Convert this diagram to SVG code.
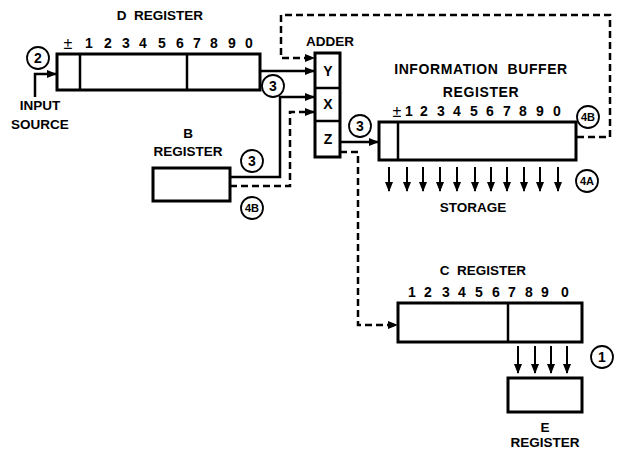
<svg xmlns="http://www.w3.org/2000/svg" width="624" height="450" viewBox="0 0 624 450">
<defs>
<marker id="ah" markerWidth="10" markerHeight="8" refX="9" refY="4" orient="auto" markerUnits="userSpaceOnUse">
<path d="M0,0 L10,4 L0,8 Z" fill="#000"/>
</marker>
<style>
text{font-family:"Liberation Sans",Arial,sans-serif;font-weight:bold;fill:#000}
.t{font-size:13.5px;text-anchor:middle;white-space:pre}
.tw{font-size:14px;text-anchor:middle;white-space:pre;letter-spacing:0.6px}
.d{font-size:14px;text-anchor:middle}
.pm{font-size:16px;text-anchor:middle;font-weight:normal}
.c{font-size:14px;text-anchor:middle}
.cs{font-size:11px;text-anchor:middle}
.box{fill:#fff;stroke:#000;stroke-width:3}
.div{stroke:#000;stroke-width:2.5}
.ln{fill:none;stroke:#000;stroke-width:2.5}
.ds{fill:none;stroke:#000;stroke-width:2.5;stroke-dasharray:7 4}
.cir{fill:#fff;stroke:#000;stroke-width:1.8}
.ar{stroke:#000;stroke-width:2}
</style>
</defs>
<rect width="624" height="450" fill="#fff"/>

<g id="connectors">
<path class="ln" d="M35,97 V74 H56" marker-end="url(#ah)"/>
<path class="ln" d="M260,71 H314" marker-end="url(#ah)"/>
<path class="ln" d="M230,177 H280 V97 H314" marker-end="url(#ah)"/>
<path class="ds" d="M230,186 H290 V112 H314" marker-end="url(#ah)"/>
<path class="ds" d="M577,137 H610 V15 H281 V58 H314" marker-end="url(#ah)"/>
<path class="ln" d="M340,142 H378" marker-end="url(#ah)"/>
<path class="ds" d="M340,152 H358 V325 H397" marker-end="url(#ah)"/>
<path class="ar" d="M389,167 V191" marker-end="url(#ah)"/>
<path class="ar" d="M407,167 V191" marker-end="url(#ah)"/>
<path class="ar" d="M423,167 V191" marker-end="url(#ah)"/>
<path class="ar" d="M440,167 V191" marker-end="url(#ah)"/>
<path class="ar" d="M457,167 V191" marker-end="url(#ah)"/>
<path class="ar" d="M475,167 V191" marker-end="url(#ah)"/>
<path class="ar" d="M491,167 V191" marker-end="url(#ah)"/>
<path class="ar" d="M507,167 V191" marker-end="url(#ah)"/>
<path class="ar" d="M524,167 V191" marker-end="url(#ah)"/>
<path class="ar" d="M540,167 V191" marker-end="url(#ah)"/>
<path class="ar" d="M558,167 V191" marker-end="url(#ah)"/>
<path class="ar" d="M518,346 V373" marker-end="url(#ah)"/>
<path class="ar" d="M535,346 V373" marker-end="url(#ah)"/>
<path class="ar" d="M551,346 V373" marker-end="url(#ah)"/>
<path class="ar" d="M567,346 V373" marker-end="url(#ah)"/>
</g>

<g id="d-register">
<text class="t" x="160" y="20">D  REGISTER</text>
<rect class="box" x="57" y="54" width="203" height="36"/>
<line class="div" x1="80" y1="54" x2="80" y2="90"/>
<line class="div" x1="187" y1="54" x2="187" y2="90"/>
<text class="pm" x="68" y="49">±</text>
<text class="d" x="89" y="48">1</text>
<text class="d" x="108" y="48">2</text>
<text class="d" x="126" y="48">3</text>
<text class="d" x="143" y="48">4</text>
<text class="d" x="162" y="48">5</text>
<text class="d" x="180" y="48">6</text>
<text class="d" x="197" y="48">7</text>
<text class="d" x="214" y="48">8</text>
<text class="d" x="232" y="48">9</text>
<text class="d" x="249" y="48">0</text>
</g>

<g id="input-source">
<text class="t" x="40" y="110">INPUT</text>
<text class="t" x="40" y="129">SOURCE</text>
</g>

<g id="b-register">
<text class="t" x="188" y="138">B</text>
<text class="t" x="188" y="156">REGISTER</text>
<rect class="box" x="153" y="168" width="77" height="33"/>
</g>

<g id="adder">
<text class="t" x="330" y="46">ADDER</text>
<rect class="box" x="315" y="53" width="25" height="104"/>
<line class="div" x1="315" y1="88" x2="340" y2="88"/>
<line class="div" x1="315" y1="121" x2="340" y2="121"/>
<text class="c" x="328" y="76">Y</text>
<text class="c" x="328" y="109">X</text>
<text class="c" x="328" y="144">Z</text>
</g>

<g id="info-buffer">
<text class="tw" x="481" y="74">INFORMATION  BUFFER</text>
<text class="tw" x="481" y="97">REGISTER</text>
<rect class="box" x="379" y="122" width="197" height="38"/>
<line class="div" x1="398" y1="122" x2="398" y2="160"/>
<text class="pm" x="397" y="117">±</text>
<text class="d" x="409" y="116">1</text>
<text class="d" x="424" y="116">2</text>
<text class="d" x="441" y="116">3</text>
<text class="d" x="457" y="116">4</text>
<text class="d" x="474" y="116">5</text>
<text class="d" x="490" y="116">6</text>
<text class="d" x="507" y="116">7</text>
<text class="d" x="523" y="116">8</text>
<text class="d" x="540" y="116">9</text>
<text class="d" x="557" y="116">0</text>
</g>

<g id="storage">
<text class="t" x="473" y="212">STORAGE</text>
</g>

<g id="c-register">
<text class="t" x="483" y="275">C  REGISTER</text>
<rect class="box" x="398" y="303" width="184" height="39"/>
<line class="div" x1="508" y1="303" x2="508" y2="342"/>
<text class="d" x="412" y="297">1</text>
<text class="d" x="428" y="297">2</text>
<text class="d" x="446" y="297">3</text>
<text class="d" x="462" y="297">4</text>
<text class="d" x="479" y="297">5</text>
<text class="d" x="496" y="297">6</text>
<text class="d" x="512" y="297">7</text>
<text class="d" x="529" y="297">8</text>
<text class="d" x="545" y="297">9</text>
<text class="d" x="565" y="297">0</text>
</g>

<g id="e-register">
<rect class="box" x="508" y="378" width="74" height="34"/>
<text class="t" x="545" y="432">E</text>
<text class="t" x="545" y="447">REGISTER</text>
</g>

<g id="markers">
<circle class="cir" cx="38" cy="58" r="11"/><text class="c" x="38" y="63">2</text>
<circle class="cir" cx="273" cy="86" r="11"/><text class="c" x="273" y="91">3</text>
<circle class="cir" cx="252" cy="161" r="11"/><text class="c" x="252" y="166">3</text>
<circle class="cir" cx="252" cy="208" r="11"/><text class="cs" x="252" y="212">4B</text>
<circle class="cir" cx="360" cy="126" r="11"/><text class="c" x="360" y="131">3</text>
<circle class="cir" cx="588" cy="117" r="11"/><text class="cs" x="588" y="121">4B</text>
<circle class="cir" cx="587" cy="181" r="11"/><text class="cs" x="587" y="185">4A</text>
<circle class="cir" cx="602" cy="357" r="11"/><text class="c" x="602" y="362">1</text>
</g>
</svg>
